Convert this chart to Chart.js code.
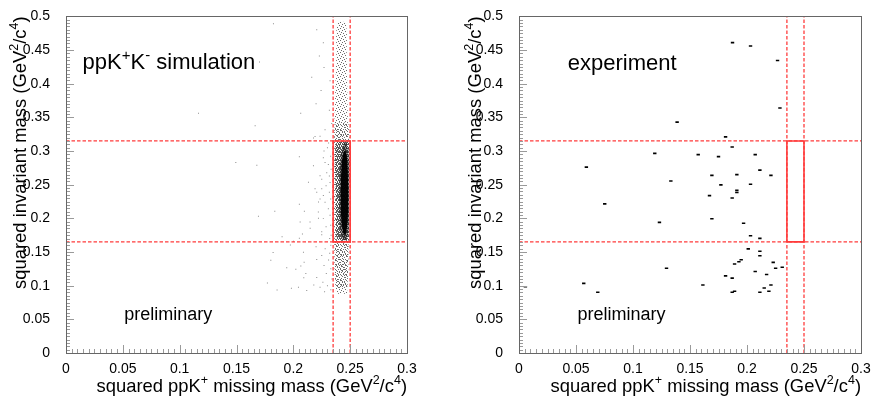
<!DOCTYPE html>
<html>
<head>
<meta charset="utf-8">
<script src="https://cdn.jsdelivr.net/npm/chart.js@4.4.1/dist/chart.umd.min.js"></script>
<style>
html, body { margin: 0; padding: 0; background: #fff; }
.panel { position: absolute; top: 0; width: 437px; height: 402px; }
#left { left: 0; }
#right { left: 437px; }
</style>
</head>
<body>
<div class="panel" id="left"><canvas id="simChart"></canvas></div>
<div class="panel" id="right"><canvas id="expChart"></canvas></div>
<script>
// axis ticks
const xTickValues = [0, 0.05, 0.1, 0.15, 0.2, 0.25, 0.3];
const yTickValues = [0, 0.05, 0.1, 0.15, 0.2, 0.25, 0.3, 0.35, 0.4, 0.45, 0.5];

// cut window (missing mass / invariant mass)
const cutMissMass = [0.235, 0.25];
const cutInvMass = [0.165, 0.315];

// experiment events
const expMissMass = [0.1873, 0.2031, 0.2268, 0.2289, 0.1387, 0.1812, 0.187, 0.1191, 0.1572, 0.175,
    0.2072, 0.0591, 0.2113, 0.1692, 0.1911, 0.221, 0.1332, 0.1771, 0.2031, 0.1911,
    0.1911, 0.1671, 0.187, 0.0752, 0.1232, 0.1692, 0.197, 0.2031, 0.2113, 0.2011,
    0.2113, 0.2113, 0.1949, 0.1929, 0.1891, 0.223, 0.2309, 0.2251, 0.1294, 0.2072,
    0.2172, 0.1812, 0.187, 0.221, 0.2151, 0.1613, 0.0568, 0.0056, 0.0691, 0.1891,
    0.187, 0.2113, 0.2192];
const expInvMass = [0.461, 0.456, 0.4346, 0.364, 0.343, 0.321, 0.306, 0.2966, 0.2947, 0.2917,
    0.2947, 0.2761, 0.2717, 0.2639, 0.2649, 0.2639, 0.2556, 0.2498, 0.2507, 0.2415,
    0.2385, 0.2337, 0.2302, 0.2215, 0.1941, 0.1995, 0.1927, 0.1741, 0.1702, 0.1546,
    0.1512, 0.1444, 0.1385, 0.1356, 0.1322, 0.1346, 0.1273, 0.1258, 0.1258, 0.121,
    0.1166, 0.1146, 0.1112, 0.101, 0.0966, 0.101, 0.1034, 0.0985, 0.0902, 0.0917,
    0.0902, 0.0902, 0.0917];

// simulation: isolated events away from the dense band
const simMissMass = [0.1825, 0.2206, 0.2264, 0.2229, 0.1702, 0.227, 0.2162, 0.2323, 0.2244, 0.22,
    0.2317, 0.1166, 0.2065, 0.2338, 0.1664, 0.2279, 0.2191, 0.2235, 0.2177,
    0.2053, 0.2279, 0.1494, 0.1679, 0.2177, 0.2235, 0.2133, 0.2191, 0.225, 0.2053,
    0.2221, 0.1837, 0.2097, 0.1693, 0.206, 0.2221, 0.208, 0.1901, 0.2053, 0.225,
    0.2148, 0.1974, 0.2001, 0.1822, 0.2089, 0.1802, 0.2095, 0.2206, 0.2022, 0.2066,
    0.1942, 0.2092, 0.2206, 0.211, 0.1772, 0.1983, 0.1857, 0.2045, 0.2118, 0.2235,
    0.2329, 0.2264, 0.2308, 0.2332, 0.2294, 0.2317, 0.225, 0.2323, 0.2288, 0.2206,
    0.2317, 0.2264, 0.2235, 0.2329, 0.2279, 0.2308, 0.222, 0.2323, 0.2264, 0.2147,
    0.2329, 0.2288, 0.225, 0.2332, 0.23, 0.231, 0.227,
    0.233, 0.228, 0.232, 0.225, 0.231, 0.227, 0.233, 0.229, 0.234, 0.226,
    0.23, 0.233, 0.218, 0.2275, 0.232, 0.22];
const simInvMass = [0.489, 0.48, 0.4607, 0.441, 0.4324, 0.424, 0.4095, 0.4045, 0.39, 0.3704,
    0.3606, 0.356, 0.356, 0.341, 0.3376, 0.3317, 0.3216, 0.322, 0.3195,
    0.2914, 0.2829, 0.283, 0.279, 0.278, 0.2634, 0.2537, 0.2439, 0.2439, 0.2211,
    0.2244, 0.2104, 0.2104, 0.2031, 0.1947, 0.2, 0.1767, 0.1728, 0.1703, 0.1756,
    0.1854, 0.1606, 0.1659, 0.1493, 0.1498, 0.1376, 0.1347, 0.139, 0.1244, 0.1293,
    0.1268, 0.1117, 0.1122, 0.118, 0.1039, 0.0962, 0.0937, 0.0976, 0.0927, 0.0976,
    0.2924, 0.2899, 0.2801, 0.2728, 0.2679, 0.2631, 0.2582, 0.2533, 0.2485, 0.2387,
    0.2387, 0.2338, 0.2289, 0.2289, 0.224, 0.2142, 0.2094, 0.2045, 0.1996, 0.1947,
    0.1899, 0.1874, 0.1801, 0.175, 0.305, 0.312, 0.3,
    0.16, 0.155, 0.148, 0.145, 0.138, 0.13, 0.125, 0.118, 0.11, 0.105,
    0.1, 0.094, 0.101, 0.091, 0.17, 0.158];

// simulation: outlines of the dense band (light halo, box region, core)
const haloMissMass = [0.2378, 0.2366, 0.236, 0.2358, 0.236, 0.2368, 0.2378, 0.2388,
    0.246, 0.247, 0.2476, 0.2483, 0.2488, 0.2486, 0.248, 0.2472];
const haloInvMass = [0.088, 0.11, 0.165, 0.24, 0.315, 0.38, 0.44, 0.49,
    0.49, 0.44, 0.38, 0.315, 0.24, 0.165, 0.11, 0.088];
const lowerMissMass = [0.2374, 0.2366, 0.2366, 0.2372, 0.2484, 0.2488, 0.2484, 0.2474];
const lowerInvMass = [0.095, 0.13, 0.3, 0.34, 0.34, 0.3, 0.13, 0.095];
const boxMissMass = [0.2378, 0.2374, 0.2378, 0.2492, 0.2494, 0.2492];
const boxInvMass = [0.168, 0.24, 0.312, 0.312, 0.24, 0.168];
const midMissMass = [0.2445, 0.2415, 0.2405, 0.2405, 0.2415, 0.244, 0.2465, 0.2485, 0.249, 0.249, 0.2487, 0.247];
const midInvMass = [0.312, 0.29, 0.25, 0.21, 0.18, 0.168, 0.168, 0.18, 0.21, 0.25, 0.29, 0.312];
const coreMissMass = [0.2449, 0.2432, 0.2422, 0.2418, 0.2418, 0.2422, 0.2432, 0.2445,
    0.2458, 0.247, 0.2479, 0.2482, 0.2482, 0.2479, 0.2472, 0.246];
const coreInvMass = [0.3, 0.29, 0.27, 0.245, 0.22, 0.2, 0.185, 0.176,
    0.176, 0.185, 0.2, 0.22, 0.245, 0.27, 0.29, 0.3];

const RED = '#ff3b3b';
const FONT = "'Liberation Sans', Arial, sans-serif";
Chart.defaults.font.family = FONT;
Chart.defaults.color = '#000';

// text pieces: [text, superscript?]
const xTitle = [['squared ppK', 0], ['+', 1], [' missing mass (GeV', 0], ['2', 1], ['/c', 0], ['4', 1], [')', 0]];
const yTitle = [['squared invariant mass (GeV', 0], ['2', 1], ['/c', 0], ['4', 1], [')', 0]];
const simLabel = [['ppK', 0], ['+', 1], ['K', 0], ['-', 1], [' simulation', 0]];
const expLabel = [['experiment', 0]];
const prelimLabel = [['preliminary', 0]];

function toPoints(xs, ys) {
    return xs.map((x, i) => ({ x: x, y: ys[i] }));
}

// speckled fill, a fixed tile of dots
function speckle(dots, size, color) {
    const c = document.createElement('canvas');
    c.width = size; c.height = size;
    const g = c.getContext('2d');
    g.fillStyle = color;
    dots.forEach(d => g.fillRect(d[0], d[1], 1, 1));
    return g.createPattern(c, 'repeat');
}

function richWidth(ctx, parts, size) {
    let w = 0;
    parts.forEach(p => {
        ctx.font = (p[1] ? size * 0.68 : size) + 'px ' + FONT;
        w += ctx.measureText(p[0]).width;
    });
    return w;
}

function drawRich(ctx, parts, x, y, size) {
    let cx = x;
    ctx.textAlign = 'left';
    ctx.textBaseline = 'alphabetic';
    parts.forEach(p => {
        const s = p[1] ? size * 0.68 : size;
        ctx.font = s + 'px ' + FONT;
        ctx.fillText(p[0], cx, p[1] ? y - size * 0.42 : y);
        cx += ctx.measureText(p[0]).width;
    });
}

// ROOT-like frame, inward ticks and labels
const rootFrame = {
    id: 'rootFrame',
    afterDraw(chart, args, opts) {
        const ctx = chart.ctx;
        const a = chart.chartArea;
        const xs = chart.scales.x, ys = chart.scales.y;
        ctx.save();
        ctx.strokeStyle = '#9a9a9a';
        ctx.lineWidth = 1;
        ctx.beginPath();
        for (let i = 0; i <= 60; i++) {
            const px = Math.round(xs.getPixelForValue(i * 0.005)) + 0.5;
            const len = i % 10 === 0 ? 8 : 4;
            ctx.moveTo(px, a.bottom);
            ctx.lineTo(px, a.bottom - len);
        }
        for (let i = 0; i <= 100; i++) {
            const py = Math.round(ys.getPixelForValue(i * 0.005)) + 0.5;
            const len = i % 10 === 0 ? 8 : 4;
            ctx.moveTo(a.left, py);
            ctx.lineTo(a.left + len, py);
        }
        ctx.stroke();
        ctx.strokeStyle = '#666';
        ctx.strokeRect(Math.round(a.left) + 0.5, Math.round(a.top) + 0.5,
            Math.round(a.right - a.left), Math.round(a.bottom - a.top));

        ctx.fillStyle = '#000';
        // x title, right aligned to frame
        const wx = richWidth(ctx, xTitle, 18.4);
        drawRich(ctx, xTitle, a.right - wx, 392, 18.4);
        // y title, rotated, ending at the top of the frame
        const wy = richWidth(ctx, yTitle, 18.4);
        ctx.save();
        ctx.translate(opts.yTitleX, a.top);
        ctx.rotate(-Math.PI / 2);
        drawRich(ctx, yTitle, -wy, 0, 18.4);
        ctx.restore();
        // labels inside the frame
        drawRich(ctx, opts.label, xs.getPixelForValue(opts.labelAt[0]), ys.getPixelForValue(opts.labelAt[1]), 22);
        drawRich(ctx, prelimLabel, xs.getPixelForValue(opts.prelimAt[0]), ys.getPixelForValue(opts.prelimAt[1]), 18);
        ctx.restore();
    }
};

function cutDatasets() {
    const sets = [];
    cutMissMass.forEach(c => sets.push({
        data: [{ x: c, y: 0 }, { x: c, y: 0.5 }],
        showLine: true, borderColor: RED, borderWidth: 1.3, borderDash: [3.5, 2],
        pointRadius: 0, order: 0
    }));
    cutInvMass.forEach(c => sets.push({
        data: [{ x: 0, y: c }, { x: 0.3, y: c }],
        showLine: true, borderColor: RED, borderWidth: 1.3, borderDash: [3.5, 2],
        pointRadius: 0, order: 0
    }));
    sets.push({
        data: [
            { x: cutMissMass[0], y: cutInvMass[0] }, { x: cutMissMass[1], y: cutInvMass[0] },
            { x: cutMissMass[1], y: cutInvMass[1] }, { x: cutMissMass[0], y: cutInvMass[1] },
            { x: cutMissMass[0], y: cutInvMass[0] }
        ],
        showLine: true, borderColor: RED, borderWidth: 1.6, pointRadius: 0, order: 0
    });
    return sets;
}

function shape(xs, ys, fill, order) {
    return {
        data: toPoints(xs, ys),
        showLine: true, fill: 'shape', backgroundColor: fill,
        borderColor: 'rgba(0,0,0,0)', borderWidth: 0, pointRadius: 0, tension: 0.3, order: order
    };
}

function makePanel(canvasId, datasets, cfg) {
    return new Chart(document.getElementById(canvasId), {
        type: 'scatter',
        data: { datasets: datasets },
        options: {
            responsive: true,
            maintainAspectRatio: false,
            animation: false,
            events: [],
            layout: { padding: { top: 11.5, right: cfg.padRight, left: 0, bottom: 0 } },
            scales: {
                x: {
                    min: 0, max: 0.3,
                    grid: { display: false },
                    border: { display: false },
                    afterBuildTicks: s => { s.ticks = xTickValues.map(v => ({ value: v })); },
                    afterFit: s => { s.height = 49; },
                    ticks: {
                        font: { size: 14 }, color: '#000', padding: 0, maxRotation: 0,
                        callback: v => String(+v.toFixed(2))
                    }
                },
                y: {
                    min: 0, max: 0.5,
                    grid: { display: false },
                    border: { display: false },
                    afterBuildTicks: s => { s.ticks = yTickValues.map(v => ({ value: v })); },
                    afterFit: s => { s.width = cfg.yAxisWidth; },
                    ticks: {
                        font: { size: 14 }, color: '#000', padding: 8,
                        callback: v => String(+v.toFixed(2))
                    }
                }
            },
            plugins: {
                legend: { display: false },
                tooltip: { enabled: false },
                rootFrame: cfg
            }
        },
        plugins: [rootFrame]
    });
}

const lightSpeckle = speckle([[0, 0], [3, 1], [1, 3], [4, 4], [5, 2], [2, 5]], 6, '#6a6a6a');
const lowerSpeckle = speckle([[1, 0], [4, 2], [0, 4], [3, 4], [2, 1]], 5, '#707070');
const midSpeckle = speckle([[0, 0], [2, 0], [1, 1], [3, 2], [0, 3], [2, 3], [1, 2], [3, 0]], 4, '#555');

// left: simulation
makePanel('simChart', cutDatasets().concat([
    {
        data: toPoints(simMissMass, simInvMass),
        pointStyle: 'rect', pointRadius: 0.7, pointBorderWidth: 0,
        backgroundColor: '#8a8a8a', borderColor: '#8a8a8a', order: 1
    },
    shape(coreMissMass, coreInvMass, 'rgba(0,0,0,0.95)', 2),
    shape(midMissMass, midInvMass, 'rgba(0,0,0,0.45)', 3),
    shape(boxMissMass, boxInvMass, midSpeckle, 4),
    shape(lowerMissMass, lowerInvMass, lowerSpeckle, 5),
    shape(haloMissMass, haloInvMass, lightSpeckle, 6)
]), {
    yAxisWidth: 66, padRight: 30, yTitleX: 26,
    label: simLabel, labelAt: [0.0146, 0.4217], prelimAt: [0.0512, 0.0483]
});

// right: experiment
makePanel('expChart', cutDatasets().concat([
    {
        data: toPoints(expMissMass, expInvMass),
        pointStyle: 'line', pointRadius: 1.7, pointBorderWidth: 1.6,
        borderColor: '#000', backgroundColor: '#000', order: 1
    }
]), {
    yAxisWidth: 82, padRight: 13, yTitleX: 43.5,
    label: expLabel, labelAt: [0.0428, 0.4206], prelimAt: [0.0513, 0.0483]
});
</script>
</body>
</html>
